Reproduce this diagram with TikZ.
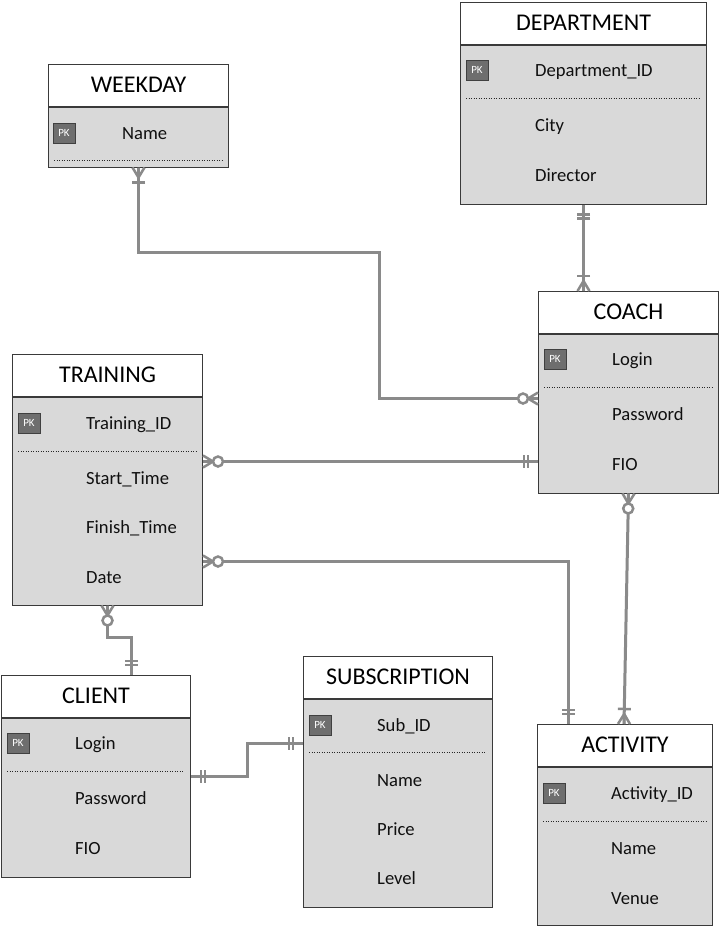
\documentclass[tikz,border=0pt]{standalone}
\usepackage{fontspec}
\setmainfont{Carlito}
\usetikzlibrary{decorations.markings,calc}
\definecolor{lgrey}{HTML}{8A8A8A}
\definecolor{bodyfill}{HTML}{D9D9D9}
\definecolor{bordc}{HTML}{3A3A3A}
\definecolor{pkfill}{HTML}{6E6E6E}
\definecolor{pkborder}{HTML}{404040}
\definecolor{txt}{HTML}{101010}

\newcommand{\crowmk}[1]{\draw[mk] (0pt,6pt) -- (#1 10pt,0pt) (0pt,-6pt) -- (#1 10pt,0pt) (0pt,0pt) -- (#1 10pt,0pt);}
\newcommand{\barmk}[2]{\draw[mk] (#1 #2,6.5pt) -- (#1 #2,-6.5pt);}
\newcommand{\circmk}[1]{\draw[mk,fill=white] (#1 15pt,0pt) circle[radius=5pt];}

\newcommand{\entity}[6]{%
  \node[hdr, minimum width=#4pt, anchor=north west] (#1) at (#2,#3) {#6};
  \node[bdy, minimum width=#4pt, minimum height=#5pt, anchor=north west] (#1B) at (#1.south west) {};
}
\newcommand{\attr}[4]{\node[attrtxt] (#1) at (#2,#3) {#4};}
\newcommand{\pkbox}[3]{\node[pkst] (#1) at (#2,#3) {PK};}

\tikzset{
  hdr/.style={draw=bordc, line width=1pt, fill=white, minimum height=41.5pt, inner sep=0pt, font=\fontsize{24}{27}\selectfont, text=black},
  bdy/.style={draw=bordc, line width=1pt, fill=bodyfill, inner sep=0pt},
  attrtxt/.style={anchor=base west, inner sep=0pt, font=\fontsize{18.6}{21}\selectfont, text=txt},
  pkst/.style={draw=pkborder, fill=pkfill, line width=1pt, minimum width=22pt, minimum height=20pt, inner sep=0pt, text=white, font=\fontsize{11}{13}\selectfont},
  dotsep/.style={draw=black!85, line width=1pt, dash pattern=on 1.3pt off 1.2pt},
  conn/.style={draw=lgrey, line width=3pt},
  mk/.style={draw=lgrey, line width=2.5pt},
  zm start/.style={postaction={decorate,decoration={markings,mark=at position 0 with {\crowmk{}\circmk{}}}}},
  zm end/.style={postaction={decorate,decoration={markings,mark=at position 1 with {\crowmk{-}\circmk{-}}}}},
  om start/.style={postaction={decorate,decoration={markings,mark=at position 0 with {\crowmk{}\barmk{}{15pt}}}}},
  om end/.style={postaction={decorate,decoration={markings,mark=at position 1 with {\crowmk{-}\barmk{-}{15pt}}}}},
  oo start/.style={postaction={decorate,decoration={markings,mark=at position 0 with {\barmk{}{10pt}\barmk{}{14pt}}}}},
  oo end/.style={postaction={decorate,decoration={markings,mark=at position 1 with {\barmk{-}{10pt}\barmk{-}{14pt}}}}},
}

\begin{document}
\begin{tikzpicture}[x=1pt,y=-1pt]
\useasboundingbox (0,0) rectangle (720,927);
\fill[white] (0,0) rectangle (720,927);

% WEEKDAY
\entity{weekday}{48}{64}{180}{60}{WEEKDAY}
\pkbox{weekdaypk}{64}{133}
\attr{weekdayname}{122}{139}{Name}
\draw[dotsep] (54,160) -- (222,160);

% DEPARTMENT
\entity{department}{460}{2}{246}{159}{DEPARTMENT}
\pkbox{deptpk}{477}{70}
\attr{deptid}{535}{76}{Department\_ID}
\draw[dotsep] (466,98) -- (700,98);
\attr{deptcity}{535}{131}{City}
\attr{deptdir}{535}{181}{Director}

% COACH
\entity{coach}{538}{291}{180}{159}{COACH}
\pkbox{coachpk}{555}{359}
\attr{coachlogin}{612}{365}{Login}
\draw[dotsep] (544,387) -- (712,387);
\attr{coachpass}{612}{420}{Password}
\attr{coachfio}{612}{470}{FIO}

% TRAINING
\entity{training}{12}{354}{190}{208}{TRAINING}
\pkbox{trainingpk}{29}{423}
\attr{trainingid}{86}{429}{Training\_ID}
\draw[dotsep] (18,451) -- (196,451);
\attr{trainingstart}{86}{484}{Start\_Time}
\attr{trainingfinish}{86}{533}{Finish\_Time}
\attr{trainingdate}{86}{583}{Date}

% CLIENT
\entity{client}{1}{675}{189}{159}{CLIENT}
\pkbox{clientpk}{18}{743}
\attr{clientlogin}{75}{749}{Login}
\draw[dotsep] (7,771) -- (184,771);
\attr{clientpass}{75}{804}{Password}
\attr{clientfio}{75}{854}{FIO}

% SUBSCRIPTION
\entity{subscription}{303}{656}{189}{208}{SUBSCRIPTION}
\pkbox{subpk}{320}{725}
\attr{subid}{377}{731}{Sub\_ID}
\draw[dotsep] (309,752) -- (486,752);
\attr{subname}{377}{786}{Name}
\attr{subprice}{377}{835}{Price}
\attr{sublevel}{377}{884}{Level}

% ACTIVITY
\entity{activity}{537}{724}{175}{158}{ACTIVITY}
\pkbox{actpk}{554}{793}
\attr{actid}{611}{799}{Activity\_ID}
\draw[dotsep] (543,821) -- (706,821);
\attr{actname}{611}{854}{Name}
\attr{actvenue}{611}{904}{Venue}

% connection points
\coordinate (cw1) at ([yshift=-65pt]coachB.north west);
\coordinate (t1) at ([yshift=-65pt]trainingB.north east);
\coordinate (t2) at ([yshift=-165pt]trainingB.north east);
\coordinate (a1) at ([xshift=31pt]activity.north west);
\coordinate (a2) at ([xshift=87pt]activity.north west);
\coordinate (cl1) at ([xshift=130pt]client.north west);
\coordinate (c1) at ([yshift=-59pt]clientB.north east);
\coordinate (s1) at ([yshift=-45pt]subscriptionB.north west);

% connectors
\draw[conn, om start, zm end] (weekdayB.south) |- (379,252) |- (cw1);
\draw[conn, oo start, om end] (departmentB.south) -- (departmentB.south |- coach.north);
\draw[conn, zm start, oo end] (t1) -- (t1 -| coachB.west);
\draw[conn, zm start, oo end] (t2) -| (a1);
\draw[conn, zm start, om end] (coachB.south) -- (a2);
\draw[conn, zm start, oo end] (trainingB.south) -- ++(0,32) -| (cl1);
\draw[conn, oo start, oo end] (c1) -| ($(c1)!.5!(s1)$) |- (s1);
\end{tikzpicture}
\end{document}
